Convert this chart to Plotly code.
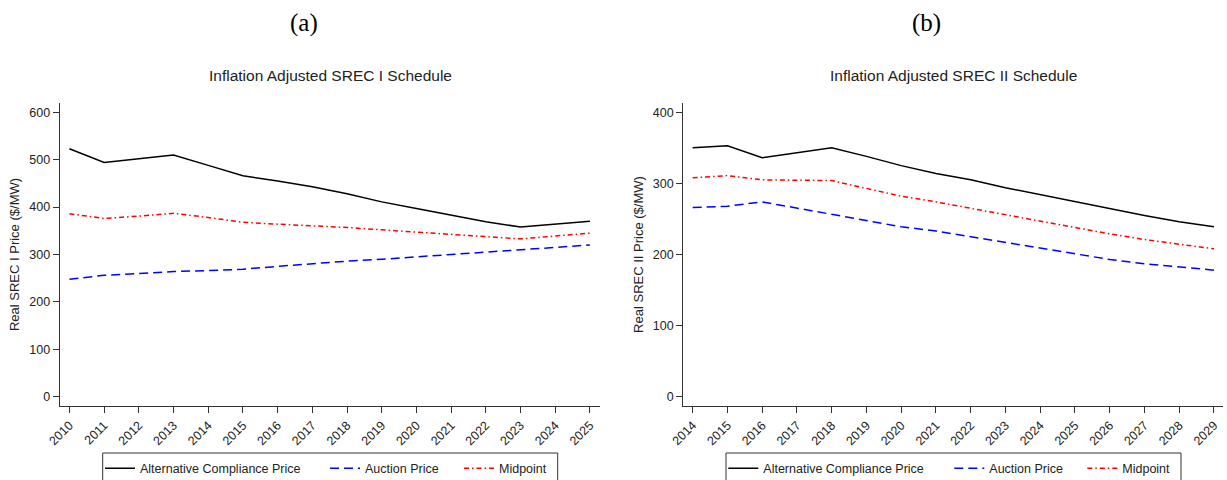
import plotly.graph_objects as go

# ---- data ----
years_a = list(range(2010, 2026))
acp_a = [523, 494, 502, 510, 488, 466, 455, 443, 428, 411, 397, 383, 369, 358, 364, 370]
auction_a = [248, 256, 260, 264, 266, 269, 275, 281, 286, 290, 295, 300, 305, 309, 315, 320]
mid_a = [386, 376, 381, 387, 378, 368, 364, 361, 357, 352, 347, 342, 338, 333, 339, 345]

years_b = list(range(2014, 2030))
acp_b = [350, 353, 336, 343, 350, 338, 325, 314, 305, 294, 284, 274, 264, 255, 246, 239]
auction_b = [266, 268, 274, 265, 257, 247, 239, 233, 225, 217, 208, 200, 193, 187, 182, 178]
mid_b = [308, 311, 305, 304, 304, 293, 282, 274, 265, 256, 246, 237, 229, 221, 214, 208]

series_names = ["Alternative Compliance Price", "Auction Price", "Midpoint"]
panel_titles = ["Inflation Adjusted SREC I Schedule", "Inflation Adjusted SREC II Schedule"]
panel_tags = ["(a)", "(b)"]
y_titles = ["Real SREC I Price ($/MW)", "Real SREC II Price ($/MW)"]
yticks_a = [0, 100, 200, 300, 400, 500, 600]
yticks_b = [0, 100, 200, 300, 400]

W, H = 1227, 480
FONT = "Liberation Sans, Arial, sans-serif"
TXT = "#222"


def px_x(v):
    return v / W


def px_y(v):
    return 1 - v / H


styles = [
    dict(color="black", width=1.5, dash="solid"),
    dict(color="#0000ff", width=1.5, dash="9px,5px"),
    dict(color="#ff0000", width=1.5, dash="5px,3px,1.5px,3px"),
]

fig = go.Figure()

panels = [
    (years_a, [acp_a, auction_a, mid_a], "x", "y", 1),
    (years_b, [acp_b, auction_b, mid_b], "x2", "y2", 4),
]
for years, vals, xa, ya, leg0 in panels:
    for i, (name, v, st) in enumerate(zip(series_names, vals, styles)):
        lg = "legend" if leg0 + i == 1 else f"legend{leg0 + i}"
        fig.add_trace(go.Scatter(
            x=years, y=v, name=name, mode="lines", line=st,
            xaxis=xa, yaxis=ya, legend=lg, showlegend=True,
        ))

axis_common = dict(
    showline=True, linecolor="#333", linewidth=1.2, ticks="outside",
    ticklen=6, tickwidth=1.2, tickcolor="#333", showgrid=False,
    zeroline=False, mirror=False, automargin=False,
)

xa_dom = [px_x(59.7), px_x(600)]
xb_dom = [px_x(683.3), px_x(1223)]
y_dom = [px_y(406), px_y(103)]

xtick_font = dict(size=12.5, color=TXT, family=FONT)
ytick_font = dict(size=12.5, color=TXT, family=FONT)
ytitle_font = dict(size=13, color=TXT, family=FONT)

fig.update_layout(
    xaxis=dict(domain=xa_dom, range=[2009.72, 2025.29], tickvals=years_a,
               tickangle=-45, tickfont=xtick_font, anchor="y", **axis_common),
    yaxis=dict(domain=y_dom, range=[-19.6, 619.6], tickvals=yticks_a,
               tickfont=ytick_font, anchor="x",
               title=dict(text=y_titles[0], font=ytitle_font, standoff=6),
               **axis_common),
    xaxis2=dict(domain=xb_dom, range=[2013.73, 2029.26], tickvals=years_b,
                tickangle=-45, tickfont=xtick_font, anchor="y2", **axis_common),
    yaxis2=dict(domain=y_dom, range=[-13.1, 413.1], tickvals=yticks_b,
                tickfont=ytick_font, anchor="x2",
                title=dict(text=y_titles[1], font=ytitle_font, standoff=6),
                **axis_common),
)

# legends: one entry each, placed along a framed strip under each panel
legend_text_x = [140, 365, 499, 763.3, 989.3, 1122.3]
leg_layout = {}
for k, tx in enumerate(legend_text_x):
    key = "legend" if k == 0 else f"legend{k + 1}"
    leg_layout[key] = dict(
        x=px_x(tx - 40), y=px_y(468.5), xanchor="left", yanchor="middle",
        orientation="h", bgcolor="rgba(0,0,0,0)", borderwidth=0,
        font=dict(size=12.5, color=TXT, family=FONT), itemwidth=30,
    )
fig.update_layout(**leg_layout)

shapes = []
for x0, x1 in [(102.7, 557.7), (726, 1181)]:
    shapes.append(dict(type="rect", xref="paper", yref="paper",
                       x0=px_x(x0), x1=px_x(x1), y0=px_y(490), y1=px_y(453),
                       line=dict(color="#333", width=1), fillcolor="rgba(0,0,0,0)"))

annotations = []
for cx, title in [(330, panel_titles[0]), (953, panel_titles[1])]:
    annotations.append(dict(text=title, x=px_x(cx), y=px_y(75), xref="paper", yref="paper",
                            xanchor="center", yanchor="middle", showarrow=False,
                            font=dict(size=15.5, color=TXT, family=FONT)))
for cx, tag in [(304, panel_tags[0]), (926.7, panel_tags[1])]:
    annotations.append(dict(text=tag, x=px_x(cx), y=px_y(23), xref="paper", yref="paper",
                            xanchor="center", yanchor="middle", showarrow=False,
                            font=dict(size=25, color="black",
                                      family="Liberation Serif, serif")))

fig.update_layout(
    width=W, height=H, margin=dict(l=0, r=0, t=0, b=0, autoexpand=False),
    paper_bgcolor="white", plot_bgcolor="white",
    shapes=shapes, annotations=annotations,
)

fig.write_html("out.html")
